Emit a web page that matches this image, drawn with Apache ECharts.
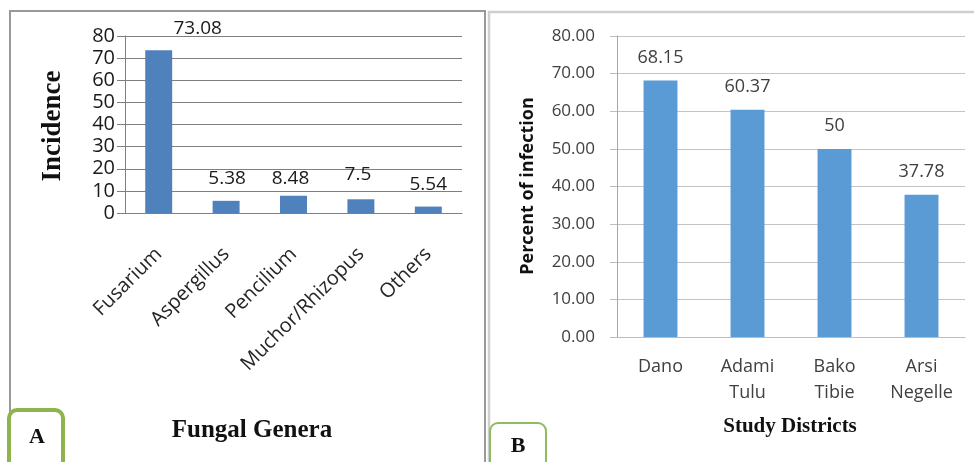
<!DOCTYPE html>
<html>
<head>
<meta charset="utf-8">
<script src="https://cdn.jsdelivr.net/npm/echarts@6/dist/echarts.min.js"></script>
<style>
  html, body { margin: 0; padding: 0; background: #fff; }
  #main { width: 974px; height: 462px; }
</style>
</head>
<body>
<div id="main"></div>
<script>
// panel A: fungal genera
var generaNames = ['Fusarium', 'Aspergillus', 'Pencilium', 'Muchor/Rhizopus', 'Others'];
var generaBars = [73.6, 5.5, 7.8, 6.2, 2.9];          // bar heights as drawn
var generaLabels = ['73.08', '5.38', '8.48', '7.5', '5.54']; // printed labels
var incidenceTicks = [0, 80, 10];                      // min, max, step

// panel B: study districts
var districtNames = ['Dano', 'Adami\nTulu', 'Bako\nTibie', 'Arsi\nNegelle'];
var infectionPct = [68.15, 60.37, 50, 37.78];
var percentTicks = [0, 80, 10];

// label nudges for panel A (the original labels sit a bit off their bars)
var shiftA = [[39, 0], [1, -1], [-3, 4], [-3, -3], [0, 0]];

var numFont = '"Open Sans", sans-serif';
var serif = '"Liberation Serif", "Times New Roman", serif';

var dataA = generaBars.map(function (v, i) {
    return {
        value: v,
        label: { formatter: generaLabels[i], offset: shiftA[i] }
    };
});

var option = {
    animation: false,
    backgroundColor: '#fff',
    grid: [
        { left: 125, top: 36, width: 337, height: 177, containLabel: false },
        { left: 617, top: 36, width: 348, height: 301, containLabel: false }
    ],
    xAxis: [
        {
            gridIndex: 0, type: 'category', data: generaNames,
            axisLine: { lineStyle: { color: '#7f7f7f', width: 1 } },
            axisTick: { show: false },
            axisLabel: { rotate: 45, margin: 38, fontSize: 20, fontFamily: numFont, color: '#262626' }
        },
        {
            gridIndex: 1, type: 'category', data: districtNames,
            axisLine: { lineStyle: { color: '#bdbdbd', width: 1 } },
            axisTick: { show: false },
            axisLabel: { margin: 17, fontSize: 18, lineHeight: 26, fontFamily: numFont, color: '#404040' }
        }
    ],
    yAxis: [
        {
            gridIndex: 0, type: 'value',
            min: incidenceTicks[0], max: incidenceTicks[1], interval: incidenceTicks[2],
            axisLine: { show: true, lineStyle: { color: '#7f7f7f' } },
            axisTick: { show: true, length: 8, lineStyle: { color: '#7f7f7f' } },
            splitLine: { lineStyle: { color: '#7f7f7f' } },
            axisLabel: { margin: 10, fontSize: 20, fontFamily: numFont, color: '#1a1a1a' }
        },
        {
            gridIndex: 1, type: 'value',
            min: percentTicks[0], max: percentTicks[1], interval: percentTicks[2],
            axisLine: { show: true, lineStyle: { color: '#a6a6a6' } },
            axisTick: { show: true, length: 7, lineStyle: { color: '#bdbdbd' } },
            splitLine: { lineStyle: { color: '#c4c4c4' } },
            axisLabel: {
                margin: 22, fontSize: 17, fontFamily: numFont, color: '#404040',
                formatter: function (v) { return v.toFixed(2); }
            }
        }
    ],
    series: [
        {
            type: 'bar', xAxisIndex: 0, yAxisIndex: 0, data: dataA,
            barWidth: '40%', itemStyle: { color: '#4f81bd' },
            label: { show: true, position: 'top', distance: 12, fontSize: 19, fontFamily: numFont, color: '#1a1a1a' }
        },
        {
            type: 'bar', xAxisIndex: 1, yAxisIndex: 1, data: infectionPct,
            barWidth: '39%', itemStyle: { color: '#5b9bd5' },
            label: { show: true, position: 'top', distance: 14, fontSize: 18, fontFamily: numFont, color: '#404040' }
        }
    ],
    graphic: [
        { type: 'rect', shape: { x: 10, y: 11, width: 475, height: 470 },
          style: { fill: 'none', stroke: '#999', lineWidth: 2 }, z: -1 },
        { type: 'rect', shape: { x: 489, y: 12, width: 500, height: 470 },
          style: { fill: 'none', stroke: '#cfcfcf', lineWidth: 2.5 }, z: -1 },
        { type: 'rect', shape: { x: 9, y: 410, width: 54, height: 70, r: 8 },
          style: { fill: '#fff', stroke: '#8eb54d', lineWidth: 4 } },
        { type: 'rect', shape: { x: 490, y: 423, width: 56, height: 60, r: 8 },
          style: { fill: '#fff', stroke: '#8fbc5a', lineWidth: 2 } },
        { type: 'text', x: 37, y: 437,
          style: { text: 'A', font: 'bold 22px ' + serif, fill: '#111', align: 'center', verticalAlign: 'middle' } },
        { type: 'text', x: 518, y: 446,
          style: { text: 'B', font: 'bold 22px ' + serif, fill: '#111', align: 'center', verticalAlign: 'middle' } },
        { type: 'text', x: 53, y: 126, rotation: Math.PI / 2,
          style: { text: 'Incidence', font: 'bold 27px ' + serif, fill: '#111', align: 'center', verticalAlign: 'middle' } },
        { type: 'text', x: 252, y: 431,
          style: { text: 'Fungal Genera', font: 'bold 25px ' + serif, fill: '#111', align: 'center', verticalAlign: 'middle' } },
        { type: 'text', x: 528, y: 186, rotation: Math.PI / 2,
          style: { text: 'Percent of infection', font: 'bold 18px ' + numFont, fill: '#111', align: 'center', verticalAlign: 'middle' } },
        { type: 'text', x: 790, y: 427,
          style: { text: 'Study Districts', font: 'bold 21px ' + serif, fill: '#111', align: 'center', verticalAlign: 'middle' } }
    ]
};

var myChart = echarts.init(document.getElementById('main'));
myChart.setOption(option);
</script>
</body>
</html>
